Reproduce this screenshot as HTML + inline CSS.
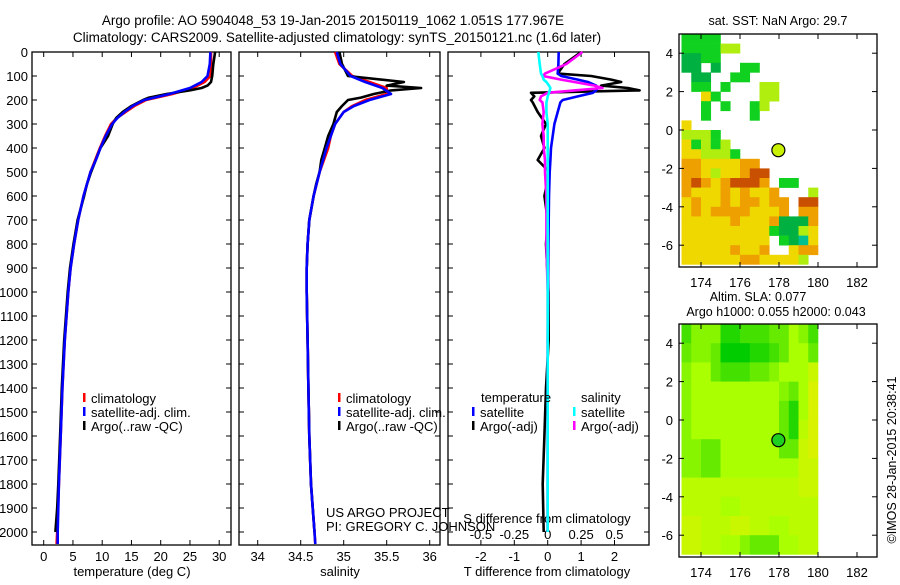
<!DOCTYPE html>
<html><head><meta charset="utf-8"><style>
body{margin:0;background:#fff;width:900px;height:580px;overflow:hidden}
svg{font-family:"Liberation Sans",sans-serif;font-size:13px}
</style></head><body>
<svg id="fig" width="900" height="580" viewBox="0 0 900 580" xmlns="http://www.w3.org/2000/svg">
<text x="333" y="25" text-anchor="middle" font-size="13.5">Argo profile: AO 5904048_53 19-Jan-2015 20150119_1062 1.051S 177.967E</text>
<text x="337" y="42" text-anchor="middle" font-size="13.5">Climatology: CARS2009. Satellite-adjusted climatology: synTS_20150121.nc (1.6d later)</text>
<text x="778" y="25" text-anchor="middle" font-size="12.5">sat. SST: NaN Argo: 29.7</text>
<text x="758" y="301" text-anchor="middle" font-size="12.5">Altim. SLA: 0.077</text>
<text x="776" y="316" text-anchor="middle" font-size="12.5">Argo h1000: 0.055 h2000: 0.043</text>
<text transform="translate(896,460) rotate(-90)" text-anchor="middle" font-size="12.5">©IMOS 28-Jan-2015 20:38:41</text>
<g id="g"></g>
</svg>
<script>
// ---- data ----
const depth = [0,50,100,125,150,175,200,225,250,275,300,350,400,450,500,600,700,800,900,1000,1200,1400,1600,1800,2000,2050];
const tClim = [28.6,28.6,28.5,27.5,25.5,22,17.5,15.5,14,12.5,11.5,10.5,9.6,8.8,8.0,6.8,5.9,5.2,4.6,4.2,3.6,3.2,2.9,2.6,2.3,2.2];
const tSat  = [28.5,28.4,28.0,27.0,25.0,21.5,17.2,15.2,13.8,12.6,11.7,10.6,9.7,8.9,8.0,6.8,5.9,5.2,4.6,4.2,3.6,3.2,2.9,2.6,2.4,2.4];
const tArgoDepth = [0,50,100,125,140,150,160,175,190,200,225,250,275,300,350,400,450,500,550,600,700,800,900,1000,1200,1400,1600,1800,1900,2000];
const tArgo = [29.3,29.0,28.8,28.6,28.0,27.0,25.0,21.0,18.0,17.0,15.0,13.5,12.4,11.8,11.0,9.7,8.9,8.1,7.4,6.9,5.8,5.1,4.5,4.1,3.5,3.1,2.8,2.5,2.3,2.0];
const sClim = [34.9,34.95,35.1,35.3,35.5,35.5,35.25,35.1,35.0,34.95,34.9,34.85,34.82,34.77,34.72,34.65,34.6,34.58,34.57,34.57,34.58,34.59,34.6,34.62,34.66,34.67];
const sSat  = [34.92,34.96,35.08,35.25,35.45,35.55,35.3,35.12,35.0,34.95,34.9,34.85,34.8,34.76,34.72,34.65,34.6,34.58,34.57,34.57,34.58,34.59,34.6,34.62,34.66,34.67];
const sArgo = [34.95,34.98,35.05,35.7,35.5,35.9,35.55,35.35,35.2,35.05,34.98,34.92,34.9,34.88,34.82,34.78,34.74,34.72,34.68,34.65,34.6,34.58,34.57,34.57,34.58,34.59,34.6,34.62,34.64,34.66];
const diffDepth = [0,50,90,100,115,125,140,150,160,170,185,200,210,250,300,350,400,450,500,600,700,800,1000,1200,1400,1600,1800,2000];
const dTsat  = [0.33,0.32,0.3,0.4,0.9,1.2,1.45,1.5,1.45,1.35,0.9,0.45,0.38,0.3,0.2,0.15,0.1,0.08,0.06,0.04,0.03,0.02,0.01,0.0,0.0,0.0,0.0,0.0];
const dTargo = [1.0,0.5,0.3,1.3,1.9,2.2,1.6,2.4,2.75,-0.5,-0.4,-0.5,-0.45,-0.3,-0.05,-0.2,-0.1,-0.3,0.05,-0.1,0.0,-0.05,0.02,0.03,-0.05,-0.1,-0.15,-0.12];
const dSsat  = [-0.07,-0.06,-0.05,-0.04,-0.03,-0.01,0.01,0.02,0.015,0.01,0.0,-0.005,-0.01,-0.01,0.0,0.0,0.0,0.0,0.0,0.0,0.0,0.0,0.0,0.0,0.0,0.0,0.0,0.0];
const dSargo = [0.26,0.14,-0.02,-0.035,0.1,0.2,0.35,0.41,0.2,0.0,-0.05,-0.06,-0.04,-0.03,-0.04,-0.03,-0.03,-0.02,-0.02,-0.01,-0.01,-0.01,0.0,0.0,0.0,0.0,0.0,0.0];
const depthTicks = [0,100,200,300,400,500,600,700,800,900,1000,1100,1200,1300,1400,1500,1600,1700,1800,1900,2000];
const tTicks = [0,5,10,15,20,25,30];
const sTicks = [34,34.5,35,35.5,36];
const sTickLabels = ["34","34.5","35","35.5","36"];
const dtTicks = [-2,-1,0,1,2];
const dsTicks = [-0.5,-0.25,0,0.25,0.5];
const lonTicks = [174,176,178,180,182];
const latTicks = [4,2,0,-2,-4,-6];
const sstColors = {g:"#10d020",G:"#00b040",l:"#b0ee10",y:"#eed800",o:"#eea000",r:"#c85000",t:"#00c090"};
const sstRows = [
"gggg..........","ggggll........","GGgg..........","GG.G..gg......",".GG..gg.......",".gg.g...ll....","..yg....ll....","..g.g..gl.....","..g....g......","y.............",
"lllg..........","yglgl.........","yylllg........","ooyyyyoo......","ooylyyorr.....","oroyorrro.gg..","oyyyoyoyyo...l","yoyyoyooyoo.rr","yoyooooyyyo.oo","yyyyyoyyyoGGGo",
"yyyyyyyyygGGly","yyyyyyyyy.gGty","yyyyyoyyo..yoo","yyyyyyooyyyyl."];
const slaRows = [
"24441122233542","34430001123553","45532223345557","45555555554358","45555555553158","45555555553168",
"44335555553378","44335555555577","66666666666677","66665566666666","77666776655666","77665543335566"];
const argoLon = 177.967, argoLat = -1.051;
// ---- helpers ----
const NS="http://www.w3.org/2000/svg", G=document.getElementById('g');
function el(tag,attrs,parent){const e=document.createElementNS(NS,tag);for(const k in attrs)e.setAttribute(k,attrs[k]);(parent||G).appendChild(e);return e;}
const yD = d => 52 + d*0.24;
const xT = t => 43.7 + t*5.85;
const xS = s => 257.7 + (s-34)*86;
const xDT = t => 547.7 + t*33.4;
const xDS = s => 547.7 + s*4*33.4;
const PB = 545, PT = 52;
const panels=[[32,231,'temperature-panel'],[239,440,'salinity-panel'],[448,649,'difference-panel']];
panels.forEach(p=>{
  const r=el('rect',{x:p[0],y:PT,width:p[1]-p[0],height:PB-PT,fill:'none',stroke:'#000','stroke-width':1.3});
  
  
  depthTicks.forEach(d=>{
    el('line',{x1:p[0],x2:p[0]+5,y1:yD(d),y2:yD(d),stroke:'#000'});
    el('line',{x1:p[1],x2:p[1]-5,y1:yD(d),y2:yD(d),stroke:'#000'});
  });
});
depthTicks.forEach(d=>{
  const t=el('text',{x:28,y:yD(d)+5,'text-anchor':'end'});t.textContent=d;
  
  
});
function xticks(vals,labels,fx,ly,x0,x1,name){
  vals.forEach((v,i)=>{const x=fx(v);
    el('line',{x1:x,x2:x,y1:PB,y2:PB-5,stroke:'#000'});el('line',{x1:x,x2:x,y1:PT,y2:PT+5,stroke:'#000'});
    const t=el('text',{x:x,y:ly,'text-anchor':'middle'});t.textContent=labels[i];
    
    
  });
}
xticks(tTicks,tTicks.map(String),xT,561,32,231,'temperature-tick-label');
xticks(sTicks,sTickLabels,xS,561,239,440,'salinity-tick-label');
xticks(dtTicks,dtTicks.map(String),xDT,561,448,649,'t-diff-tick-label');
dsTicks.forEach(v=>{const t=el('text',{x:xDS(v),y:539,'text-anchor':'middle'});t.textContent=String(v);
  
  });
function txt(x,y,s,name,anchor){const t=el('text',{x:x,y:y,'text-anchor':anchor||'start'});t.textContent=s;
  
  return t;}
txt(132,576,'temperature (deg C)','temperature-axis-title','middle');
txt(340,576,'salinity','salinity-axis-title','middle');
txt(547,576,'T difference from climatology','t-diff-axis-title','middle');
txt(547,523,'S difference from climatology','s-diff-axis-title','middle');
txt(326,517,'US ARGO PROJECT','project-label');
txt(326,531,'PI: GREGORY C. JOHNSON','pi-label');
function line(xs,ds,fx,color,name,w){
  const pts=xs.map((v,i)=>fx(v).toFixed(1)+','+yD(ds[i]).toFixed(1)).join(' ');
  const p=el('polyline',{points:pts,fill:'none',stroke:color,'stroke-width':w||2.6,'stroke-linejoin':'round'});
  
  
}
line(tClim,depth,xT,'#ff0000','temperature-climatology-line');
line(tArgo,tArgoDepth,xT,'#000','temperature-argo-line');
line(tSat,depth,xT,'#0000ff','temperature-satellite-line');
line(sClim,depth,xS,'#ff0000','salinity-climatology-line');
line(sArgo,tArgoDepth,xS,'#000','salinity-argo-line');
line(sSat,depth,xS,'#0000ff','salinity-satellite-line');
line(dTargo,diffDepth,xDT,'#000','t-diff-argo-line');
line(dTsat,diffDepth,xDT,'#0000ff','t-diff-satellite-line');
line(dSargo,diffDepth,xDS,'#ff00ff','s-diff-argo-line');
line(dSsat,diffDepth,xDS,'#00ffff','s-diff-satellite-line');
function leg(x,y,color,label,name){
  const r=el('rect',{x:x,y:y-10,width:2.5,height:9,fill:color});
  
  
  txt(x+8,y,label,name);
}
leg(83,403,'#ff0000','climatology','legend-t-climatology');
leg(83,417,'#0000ff','satellite-adj. clim.','legend-t-satellite');
leg(83,431,'#000','Argo(..raw -QC)','legend-t-argo');
leg(338,403,'#ff0000','climatology','legend-s-climatology');
leg(338,417,'#0000ff','satellite-adj. clim.','legend-s-satellite');
leg(338,431,'#000','Argo(..raw -QC)','legend-s-argo');
txt(481,402,'temperature','legend-temperature-header');
txt(581,402,'salinity','legend-salinity-header');
leg(472,417,'#0000ff','satellite','legend-dt-satellite');
leg(472,431,'#000','Argo(-adj)','legend-dt-argo');
leg(573,417,'#00ffff','satellite','legend-ds-satellite');
leg(573,431,'#ff00ff','Argo(-adj)','legend-ds-argo');
// ---- maps ----
const mx = lon => 681.5 + (lon-173)*19.5;
function mapFrame(top,my,name){
  const r=el('rect',{x:679,y:top,width:198,height:233,fill:'none',stroke:'#000','stroke-width':1.3});
  
  
  lonTicks.forEach(l=>{const x=mx(l);
    el('line',{x1:x,x2:x,y1:top+233,y2:top+228,stroke:'#000'});el('line',{x1:x,x2:x,y1:top,y2:top+5,stroke:'#000'});
    txt(x,top+253,String(l),name+'-lon-label','middle');});
  latTicks.forEach(l=>{const y=my(l);
    el('line',{x1:679,x2:684,y1:y,y2:y,stroke:'#000'});el('line',{x1:877,x2:872,y1:y,y2:y,stroke:'#000'});
    txt(673,y+5,String(l),name+'-lat-label','end');});
  const c=el('circle',{cx:mx(argoLon),cy:my(argoLat),r:6.5,fill:'none',stroke:'#000','stroke-width':1.2});
  
  
  return c;
}
const my1 = lat => 130 - lat*19.2;
sstRows.forEach((row,i)=>{[...row].forEach((ch,j)=>{ if(ch==='.')return;
  const r=el('rect',{x:mx(173+j*0.5),y:my1(5-i*0.5),width:19.5*0.5+0.3,height:19.2*0.5+0.3,fill:sstColors[ch]});
  
  
});});
const c1=mapFrame(34,my1,'sst-map'); c1.setAttribute('fill','#c8f000');
const my2 = lat => 420 - lat*19.2;
function slaColor(v){const a=[0,204,0],m=[170,255,0],b=[232,238,0];let c;
  if(v<=5){const f=v/5;c=a.map((x,k)=>x+(m[k]-x)*f);}else{const f=(v-5)/4;c=m.map((x,k)=>x+(b[k]-x)*f);}
  return 'rgb('+c.map(Math.round).join(',')+')';}
slaRows.forEach((row,i)=>{[...row].forEach((ch,j)=>{
  const r=el('rect',{x:mx(173+j*0.5),y:my2(5-i),width:19.5*0.5+0.3,height:19.2+0.3,fill:slaColor(+ch)});
  
  
});});
const c2=mapFrame(324,my2,'sla-map'); c2.setAttribute('fill','#20d020');
</script>
</body></html>
